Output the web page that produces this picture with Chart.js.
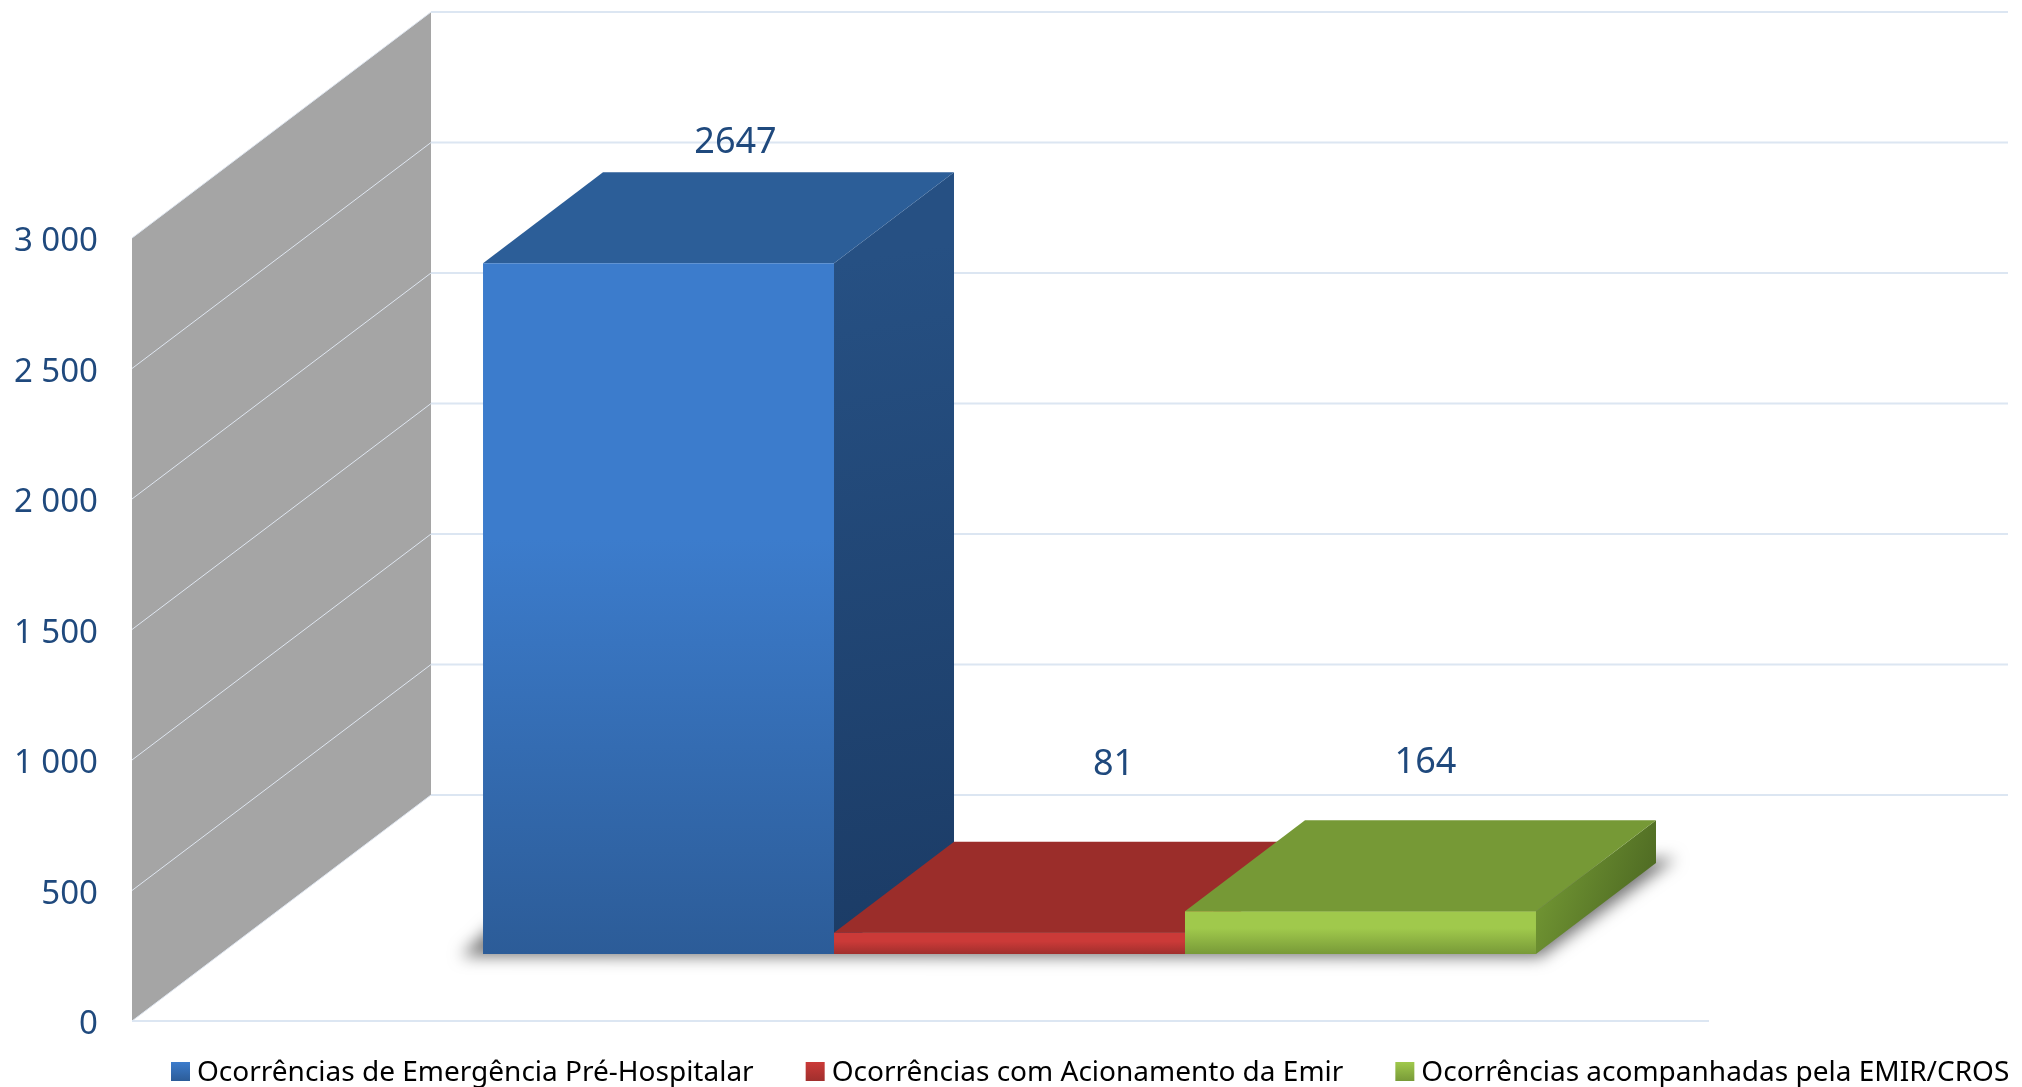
<!DOCTYPE html>
<html lang="pt">
<head>
<meta charset="utf-8">
<title>Ocorrências</title>
<script src="https://cdn.jsdelivr.net/npm/chart.js@4/dist/chart.umd.min.js"></script>
<style>
  html, body { margin: 0; padding: 0; background: #fff; overflow: hidden; }
  #wrap { position: relative; width: 2022px; height: 1087px; }
</style>
</head>
<body>
<div id="wrap"><canvas id="chart" width="2022" height="1087"></canvas></div>
<script>
// ━━━━━━━━━━━━━━━━━━━━━━━━━━━━━━━━━━━━━━━━━━━━━━━━━━━━━━━━━━━━━━━━━━━━━━━━
// DATA
// ━━━━━━━━━━━━━━━━━━━━━━━━━━━━━━━━━━━━━━━━━━━━━━━━━━━━━━━━━━━━━━━━━━━━━━━━
const categories   = ['Ocorrências'];
const seriesNames  = [
  'Ocorrências de Emergência Pré-Hospitalar',
  'Ocorrências com Acionamento da Emir',
  'Ocorrências acompanhadas pela EMIR/CROS',
];
const seriesValues = [2647, 81, 164];
const axisMax      = 3000;
const axisStep     = 500;

// ━━━━━━━━━━━━━━━━━━━━━━━━━━━━━━━━━━━━━━━━━━━━━━━━━━━━━━━━━━━━━━━━━━━━━━━━
// LOOK — colours per series and the fake 3D projection
// ━━━━━━━━━━━━━━━━━━━━━━━━━━━━━━━━━━━━━━━━━━━━━━━━━━━━━━━━━━━━━━━━━━━━━━━━
const TEXT_COLOR = '#1f497d';
const GRID_COLOR = '#dce6f2';
const WALL_COLOR = '#a5a5a5';
const FONT       = '"Noto Sans", sans-serif';

const frontTop    = ['#3c7ccc', '#cb3a38', '#a0c94c'];
const frontBottom = ['#2c5c98', '#a02f2d', '#789a38'];
const topFace     = ['#2c5e98', '#9b2d2a', '#769936'];
const sideStart   = ['#265083', '#7d2422', '#6f9332'];
const sideEnd     = ['#1b3b65', '#5e1b1a', '#46601f'];

// floor depth: how far the back wall sits from the value axis
const WALL_DX = 299, WALL_DY = 226;
// where the bars stand on the floor, and how deep they are
const BAR_SHIFT_X = 89, BAR_SHIFT_Y = 67;
const BAR_DX = 120, BAR_DY = 91;
// data label position, relative to the top centre of the front face
const labelDx = [77, 104, 65];
const labelDy = [-120, -168, -148];

const LEGEND_HEIGHT = 66;   // canvas height minus the plot's bottom edge
const LEGEND_LEFT = 171, LEGEND_ROW_TOP = 1059;
const LEGEND_SWATCH = 19, LEGEND_SWATCH_TOP = 1062;

// Vertical gradient in chart coords; the translate in the plugin carries it along
function frontGradient(ctx) {
  const chart = ctx.chart;
  const i = ctx.datasetIndex;
  if (!chart.chartArea) return frontTop[i];
  const y = chart.scales.y;
  const g = chart.ctx.createLinearGradient(0, y.getPixelForValue(seriesValues[i]), 0, y.getPixelForValue(0));
  g.addColorStop(0, frontTop[i]);
  g.addColorStop(0.4, frontTop[i]);
  g.addColorStop(1, frontBottom[i]);
  return g;
}

function poly(ctx, pts, fill) {
  ctx.fillStyle = fill;
  ctx.beginPath();
  pts.forEach((p, k) => k ? ctx.lineTo(p[0], p[1]) : ctx.moveTo(p[0], p[1]));
  ctx.closePath();
  ctx.fill();
}

function line(ctx, x1, y1, x2, y2, color, width) {
  ctx.strokeStyle = color;
  ctx.lineWidth = width;
  ctx.beginPath();
  ctx.moveTo(x1, y1);
  ctx.lineTo(x2, y2);
  ctx.stroke();
}

// ━━━━━━━━━━━━━━━━━━━━━━━━━━━━━━━━━━━━━━━━━━━━━━━━━━━━━━━━━━━━━━━━━━━━━━━━
// 3D PLUGIN — wall, floor and the top/side faces. The front faces stay
// Chart.js's own bars, only moved back onto the floor by a translate.
// ━━━━━━━━━━━━━━━━━━━━━━━━━━━━━━━━━━━━━━━━━━━━━━━━━━━━━━━━━━━━━━━━━━━━━━━━
const box3d = {
  id: 'box3d',

  // legend padding also sets the gap between items, which would make it far
  // too tall, so fix the height it reports to the layout
  beforeLayout(chart) {
    const legend = chart.legend;
    if (legend.fitPatched) return;
    const fit = legend.fit;
    legend.fit = function () {
      fit.call(this);
      this.height = LEGEND_HEIGHT;
    };
    legend.fitPatched = true;
  },

  afterLayout(chart) {
    const legend = chart.legend;
    const pad = legend.options.labels.padding;
    legend.left = LEGEND_LEFT - pad;
    legend.right = legend.left + chart.width;
    legend.top = LEGEND_ROW_TOP - pad;
  },

  beforeDatasetsDraw(chart) {
    const { ctx, chartArea: area, scales: { y } } = chart;
    const left = area.left, right = area.right;
    const y0 = y.getPixelForValue(0), yMax = y.getPixelForValue(axisMax);

    ctx.save();
    // left wall
    poly(ctx, [[left, yMax], [left + WALL_DX, yMax - WALL_DY], [left + WALL_DX, y0 - WALL_DY], [left, y0]], WALL_COLOR);

    // gridlines: across the wall, then along the back
    y.ticks.forEach(t => {
      const py = y.getPixelForValue(t.value);
      line(ctx, left, py, left + WALL_DX, py - WALL_DY, '#dfe6f0', 1);
      line(ctx, left + WALL_DX, py - WALL_DY, right + WALL_DX, py - WALL_DY, GRID_COLOR, 2);
    });
    // floor front edge
    line(ctx, left, y0, right, y0, GRID_COLOR, 2);
    ctx.restore();

    // everything from here on sits on the floor, until afterDatasetsDraw
    ctx.save();
    ctx.translate(BAR_SHIFT_X, -BAR_SHIFT_Y);

    const bars = seriesValues.map((v, i) => chart.getDatasetMeta(i).data[0]);
    const x0 = bars[0].x - bars[0].width / 2;
    const last = bars[bars.length - 1];
    const x1 = last.x + last.width / 2;

    // soft shadow under the whole group: shape is off-canvas, only its blur lands here
    ctx.save();
    const OFF = 4000;
    ctx.shadowColor = 'rgba(0,0,0,0.55)';
    ctx.shadowBlur = 16;
    ctx.shadowOffsetX = OFF;
    poly(ctx, [
      [x0 - 22 - OFF, y0 + 2],
      [x0 + 10 - OFF, y0 - 28],
      [x1 + BAR_DX + 20 - OFF, y0 - BAR_DY - 5],
      [x1 + 4 - OFF, y0 + 3],
    ], '#000');
    ctx.restore();

    // blue first, so the red floor face and then green lie over the one behind
    bars.forEach((bar, i) => {
      const l = bar.x - bar.width / 2, r = bar.x + bar.width / 2;
      const t = bar.y, b = bar.base;
      const side = ctx.createLinearGradient(r, t, r + BAR_DX, b);
      side.addColorStop(0, sideStart[i]);
      side.addColorStop(1, sideEnd[i]);
      poly(ctx, [[r, t], [r + BAR_DX, t - BAR_DY], [r + BAR_DX, b - BAR_DY], [r, b]], side);
      poly(ctx, [[l, t], [l + BAR_DX, t - BAR_DY], [r + BAR_DX, t - BAR_DY], [r, t]], topFace[i]);
    });
  },

  afterDatasetsDraw(chart) {
    const { ctx } = chart;
    ctx.restore();

    // value labels
    ctx.save();
    ctx.fillStyle = TEXT_COLOR;
    ctx.font = `36px ${FONT}`;
    ctx.textAlign = 'center';
    ctx.textBaseline = 'middle';
    seriesValues.forEach((v, i) => {
      const bar = chart.getDatasetMeta(i).data[0];
      ctx.fillText(String(v), bar.x + BAR_SHIFT_X + labelDx[i], bar.y - BAR_SHIFT_Y + labelDy[i]);
    });
    ctx.restore();
  },

  // legend boxes are narrow and see-through so the text sits close; paint the real swatches here
  afterDraw(chart) {
    const { ctx, legend } = chart;
    ctx.save();
    legend.legendHitBoxes.forEach((h, i) => {
      const g = ctx.createLinearGradient(0, LEGEND_SWATCH_TOP, 0, LEGEND_SWATCH_TOP + LEGEND_SWATCH);
      g.addColorStop(0, frontTop[i]);
      g.addColorStop(1, frontBottom[i]);
      ctx.fillStyle = g;
      ctx.fillRect(h.left, LEGEND_SWATCH_TOP, LEGEND_SWATCH, LEGEND_SWATCH);
    });
    ctx.restore();
  },
};

// ━━━━━━━━━━━━━━━━━━━━━━━━━━━━━━━━━━━━━━━━━━━━━━━━━━━━━━━━━━━━━━━━━━━━━━━━
// CHART
// ━━━━━━━━━━━━━━━━━━━━━━━━━━━━━━━━━━━━━━━━━━━━━━━━━━━━━━━━━━━━━━━━━━━━━━━━
new Chart(document.getElementById('chart'), {
  type: 'bar',
  data: {
    labels: categories,
    datasets: seriesNames.map((name, i) => ({
      label: name,
      data: [seriesValues[i]],
      backgroundColor: frontGradient,
      borderWidth: 0,
      clip: false,
    })),
  },
  plugins: [box3d],
  options: {
    responsive: false,
    animation: false,
    events: [],
    datasets: { bar: { barPercentage: 1, categoryPercentage: 0.6677 } },
    layout: { padding: { top: 238 } },
    scales: {
      x: { display: false },
      y: {
        min: 0,
        max: axisMax,
        afterFit: s => { s.width = 132; },
        border: { display: false },
        grid: { display: false },
        ticks: {
          stepSize: axisStep,
          padding: 26,
          labelOffset: 4,
          color: TEXT_COLOR,
          font: { family: FONT, size: 33 },
          callback: v => String(v).replace(/\B(?=(\d{3})+$)/g, ' '),
        },
      },
      // empty axis, only keeps the plot clear of the right side
      spacer: {
        type: 'linear',
        position: 'right',
        afterFit: s => { s.width = 313; },
        border: { display: false },
        grid: { display: false },
        ticks: { display: false },
      },
    },
    plugins: {
      tooltip: { enabled: false },
      legend: {
        position: 'bottom',
        align: 'start',
        labels: {
          color: TEXT_COLOR,
          font: { family: FONT, size: 28 },
          boxWidth: 12,
          boxHeight: LEGEND_SWATCH,
          padding: 52,
          generateLabels: chart => chart.data.datasets.map((ds, i) => ({
            text: ds.label,
            fillStyle: 'transparent',
            strokeStyle: 'transparent',
            lineWidth: 0,
            hidden: false,
            datasetIndex: i,
          })),
        },
      },
    },
  },
});
</script>
</body>
</html>
